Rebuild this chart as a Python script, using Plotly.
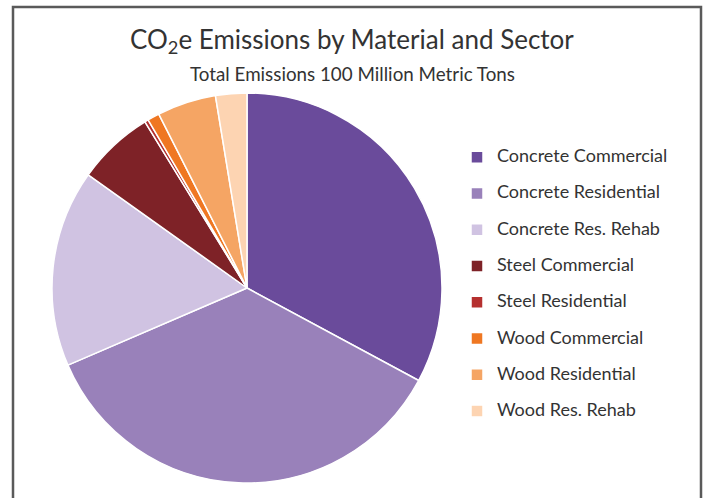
import plotly.graph_objects as go

labels = ["Concrete Commercial", "Concrete Residential", "Concrete Res. Rehab",
          "Steel Commercial", "Steel Residential", "Wood Commercial",
          "Wood Residential", "Wood Res. Rehab"]
values = [33.0, 35.8, 16.4, 6.4, 0.3, 1.0, 4.9, 2.6]
colors = ["#6a4b9b", "#9981ba", "#d0c3e2", "#7e2227", "#b5302f",
          "#ef7722", "#f5a564", "#fdd4b2"]

title_text = "CO<sub>2</sub>e Emissions by Material and Sector"
subtitle_text = "Total Emissions 100 Million Metric Tons"

W, H = 705, 498
FONT = "Lato, sans-serif"

fig = go.Figure(go.Pie(
    labels=[f'<span style="font-size:18px;baseline-shift:5px">{l}</span>' for l in labels],
    values=values,
    sort=False,
    direction="clockwise",
    rotation=0,
    textinfo="none",
    hoverinfo="label+percent",
    marker=dict(colors=colors, line=dict(color="white", width=1.5)),
    domain=dict(x=[52 / W, 442 / W], y=[1 - 483 / H, 1 - 93 / H]),
))

fig.add_shape(type="rect", xref="paper", yref="paper",
              x0=13 / W, x1=701 / W, y0=-0.2, y1=1 - 7 / H,
              line=dict(color="#5a5a5a", width=2.5), fillcolor="rgba(0,0,0,0)")

fig.add_annotation(text=title_text, xref="paper", yref="paper",
                   x=352 / W, y=1 - 40 / H, xanchor="center", yanchor="middle",
                   showarrow=False, font=dict(family=FONT, size=26, color="#333333"))
fig.add_annotation(text=subtitle_text, xref="paper", yref="paper",
                   x=352 / W, y=1 - 73 / H, xanchor="center", yanchor="middle",
                   showarrow=False, font=dict(family=FONT, size=18.8, color="#333333"))

fig.update_layout(
    width=W, height=H,
    margin=dict(l=0, r=0, t=0, b=0),
    paper_bgcolor="white", plot_bgcolor="white",
    font=dict(family=FONT, color="#333333"),
    showlegend=True,
    legend=dict(x=457 / W, y=1 - 134 / H, xanchor="left", yanchor="top",
                font=dict(family=FONT, size=25.6, color="#333333"),
                bgcolor="rgba(0,0,0,0)"),
)

fig.write_html("out.html", config={"displayModeBar": False},
               post_script="document.body.style.margin='0';")
